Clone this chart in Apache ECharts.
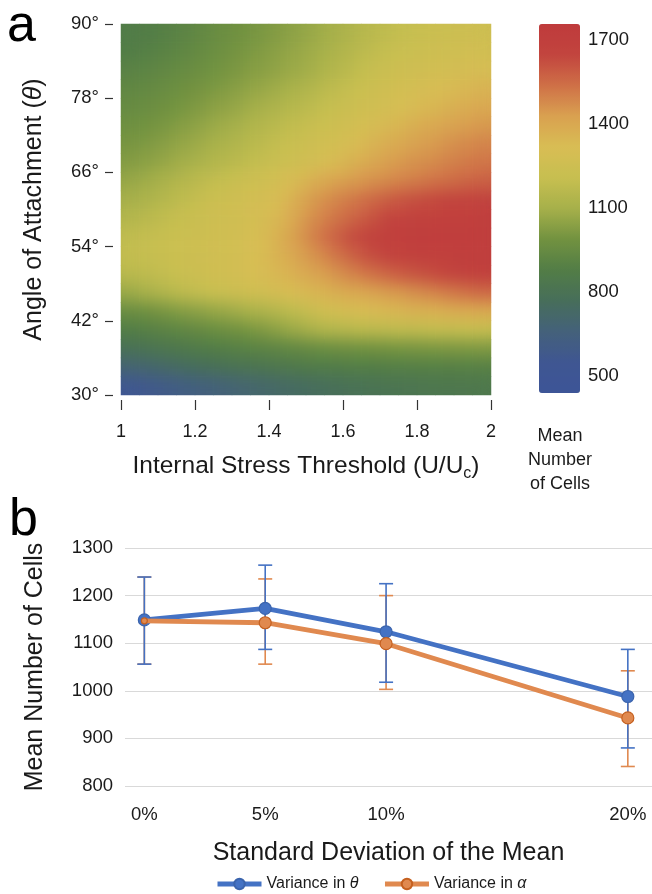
<!DOCTYPE html>
<html>
<head>
<meta charset="utf-8">
<script src="https://cdn.jsdelivr.net/npm/echarts@6/dist/echarts.min.js"></script>
<style>
html,body{margin:0;padding:0;background:#fff;}
#main{position:absolute;left:0;top:0;width:652px;height:894px;}
#smooth{position:absolute;left:121px;top:24px;width:370px;height:371px;filter:url(#blurHeat);pointer-events:none;}
</style>
</head>
<body>
<svg width="0" height="0" style="position:absolute">
  <filter id="blurHeat" x="0" y="0" width="1" height="1" color-interpolation-filters="sRGB">
    <feGaussianBlur in="SourceGraphic" stdDeviation="8" result="b"/>
    <feComponentTransfer in="b" result="o"><feFuncA type="linear" slope="0" intercept="1"/></feComponentTransfer>
    <feComposite in="o" in2="SourceGraphic" operator="in"/>
  </filter>
</svg>
<div id="main"></div>
<div id="smooth"></div>
<script>
// ---------- Panel a: heatmap data ----------
const stressCenters = [1.025,1.075,1.125,1.175,1.225,1.275,1.325,1.375,1.425,1.475,1.525,1.575,1.625,1.675,1.725,1.775,1.825,1.875,1.925,1.975];
const angleCentersTopDown = [88.5,85.5,82.5,79.5,76.5,73.5,70.5,67.5,64.5,61.5,58.5,55.5,52.5,49.5,46.5,43.5,40.5,37.5,34.5,31.5];
const meanCells = [
  [868,880,895,915,940,965,985,1005,1025,1050,1075,1100,1130,1160,1185,1205,1220,1230,1238,1245],
  [880,893,910,930,955,978,1000,1020,1042,1065,1090,1120,1150,1180,1205,1225,1240,1252,1262,1272],
  [905,918,935,955,975,995,1015,1035,1055,1078,1105,1140,1175,1210,1235,1250,1265,1280,1292,1305],
  [930,943,960,980,1000,1020,1042,1065,1090,1118,1148,1180,1210,1240,1265,1285,1303,1320,1338,1355],
  [950,963,982,1003,1025,1048,1072,1100,1128,1155,1182,1210,1235,1260,1285,1310,1335,1358,1378,1398],
  [975,990,1010,1035,1060,1085,1112,1140,1168,1195,1220,1245,1270,1300,1335,1365,1390,1410,1428,1445],
  [1000,1018,1040,1065,1092,1118,1145,1172,1200,1228,1250,1275,1310,1350,1385,1410,1432,1455,1475,1492],
  [1025,1045,1070,1097,1125,1150,1175,1200,1228,1255,1285,1325,1365,1400,1430,1452,1472,1492,1508,1525],
  [1065,1090,1120,1150,1180,1205,1230,1255,1285,1330,1380,1415,1440,1462,1482,1502,1522,1542,1558,1575],
  [1100,1125,1155,1185,1215,1240,1262,1285,1320,1385,1445,1485,1515,1550,1585,1610,1628,1643,1655,1665],
  [1140,1165,1190,1215,1235,1250,1265,1290,1340,1410,1475,1520,1560,1605,1645,1668,1684,1695,1700,1705],
  [1185,1200,1215,1232,1248,1262,1280,1310,1365,1435,1505,1565,1625,1675,1698,1710,1715,1715,1718,1720],
  [1195,1205,1220,1238,1252,1265,1285,1315,1360,1410,1460,1515,1570,1620,1660,1682,1694,1700,1705,1710],
  [1160,1180,1200,1225,1245,1265,1285,1310,1340,1375,1410,1450,1490,1530,1565,1595,1618,1640,1665,1690],
  [1075,1110,1145,1180,1205,1225,1245,1265,1290,1320,1345,1370,1390,1410,1435,1455,1480,1505,1530,1550],
  [960,980,1005,1030,1050,1070,1095,1120,1150,1185,1235,1275,1300,1320,1335,1350,1360,1372,1382,1392],
  [880,895,912,930,950,970,990,1015,1045,1080,1120,1145,1160,1170,1180,1188,1195,1200,1205,1210],
  [790,810,832,852,870,885,898,910,922,935,955,968,978,985,992,998,1003,1008,1012,1015],
  [685,705,728,750,770,788,805,820,835,850,862,870,875,880,884,887,889,891,893,895],
  [555,575,600,625,648,670,690,710,728,745,760,775,790,802,812,820,826,832,836,840]
];
const colorbarTicks = [500, 800, 1100, 1400, 1700];
const colorbarMin = 440, colorbarMax = 1755;
const colorScale = ['#3d5597','#3f5692','#44617a','#476e5a','#527d46','#729240','#a6b04a','#c7bf50','#d8bd54','#d9a150','#cf7047','#c2443e','#bf3b3c'];

// ---------- Panel b: line data ----------
const sdLevels = [0, 5, 10, 20];
const sdTickLabels = ['0%', '5%', '10%', '20%'];
const thetaMean = [1149, 1173, 1124, 988];
const thetaLow  = [1056, 1087, 1018, 880];
const thetaHigh = [1239, 1264, 1225, 1087];
const alphaMean = [1147, 1143, 1099, 943];
const alphaLow  = [1056, 1056, 1003, 841];
const alphaHigh = [1239, 1235, 1200, 1042];

const FONT = '"Liberation Sans", Arial, sans-serif';
const BLUE = '#4472c4', ORANGE = '#e0894f';

const angleCenters = angleCentersTopDown.slice().reverse();
const heatData = [];
meanCells.forEach((row, r) => {
  const yi = angleCentersTopDown.length - 1 - r;
  row.forEach((v, c) => heatData.push([c, yi, v]));
});

function heatSeries(xi, yi) {
  return {
    type: 'heatmap', xAxisIndex: xi, yAxisIndex: yi, data: heatData,
    itemStyle: {borderWidth: 0}, emphasis: {disabled: true}, silent: true, progressive: 0
  };
}

function errorBars(name, lows, highs, color) {
  return {
    type: 'custom', name: name, xAxisIndex: 3, yAxisIndex: 3, silent: true, z: 1,
    data: sdLevels.map((x, i) => [x, lows[i], highs[i]]),
    encode: {x: 0, y: [1, 2]},
    renderItem: function (params, api) {
      const x = api.value(0);
      const lo = api.coord([x, api.value(1)]);
      const hi = api.coord([x, api.value(2)]);
      const hw = 7;
      const st = {stroke: color, lineWidth: 1.6, fill: null};
      return {type: 'group', children: [
        {type: 'line', shape: {x1: lo[0], y1: lo[1], x2: hi[0], y2: hi[1]}, style: st},
        {type: 'line', shape: {x1: lo[0] - hw, y1: lo[1], x2: lo[0] + hw, y2: lo[1]}, style: st},
        {type: 'line', shape: {x1: hi[0] - hw, y1: hi[1], x2: hi[0] + hw, y2: hi[1]}, style: st}
      ]};
    }
  };
}

const plain = function (v) { return String(v); };
const txt = '#1a1a1a';
const chart = echarts.init(document.getElementById('main'), null, {renderer: 'canvas'});
chart.setOption({
  animation: false,
  backgroundColor: '#fff',
  textStyle: {fontFamily: FONT},
  grid: [
    {left: 121, top: 24, width: 370, height: 371, containLabel: false},
    {left: 539, top: 24, width: 41, height: 369, containLabel: false},
    {left: 125, top: 548, width: 527, height: 238, containLabel: false}
  ],
  xAxis: [
    {type: 'category', gridIndex: 0, data: stressCenters, show: false, position: 'top'},
    {type: 'value', gridIndex: 0, min: 1, max: 2, interval: 0.2, position: 'bottom', offset: 5,
     axisLine: {show: false}, splitLine: {show: false},
     axisTick: {show: true, length: 10, lineStyle: {color: '#333', width: 1.2}},
     axisLabel: {color: txt, fontSize: 18, fontFamily: FONT, margin: 23, formatter: plain},
     name: 'Internal Stress Threshold (U/U{s|c})', nameLocation: 'middle', nameGap: 50,
     nameTextStyle: {color: txt, fontSize: 24.5, fontFamily: FONT,
       rich: {s: {fontSize: 16, color: txt, fontFamily: FONT, padding: [16, 0, 0, 0]}}}},
    {type: 'value', gridIndex: 1, show: false, min: 0, max: 1},
    {type: 'value', gridIndex: 2, min: -0.8, max: 21, position: 'bottom',
     axisLine: {show: false}, axisTick: {show: false}, splitLine: {show: false},
     axisLabel: {customValues: sdLevels, color: txt, fontSize: 18.5, fontFamily: FONT, margin: 19,
       formatter: function (v) { const i = sdLevels.indexOf(v); return i >= 0 ? sdTickLabels[i] : ''; }},
     name: 'Standard Deviation of the Mean', nameLocation: 'middle', nameGap: 55,
     nameTextStyle: {color: txt, fontSize: 25, fontFamily: FONT}}
  ],
  yAxis: [
    {type: 'category', gridIndex: 0, data: angleCenters, show: false, position: 'right'},
    {type: 'value', gridIndex: 0, min: 30, max: 90, interval: 12, position: 'left', offset: 8,
     axisLine: {show: false}, splitLine: {show: false},
     axisTick: {show: true, length: 8, lineStyle: {color: '#333', width: 1.2}},
     axisLabel: {color: txt, fontSize: 18.5, fontFamily: FONT, margin: 14, formatter: '{value}°'},
     name: 'Angle of Attachment ({i|θ})', nameLocation: 'middle', nameGap: 66,
     nameTextStyle: {color: txt, fontSize: 25, fontFamily: FONT,
       rich: {i: {fontStyle: 'italic', fontSize: 25, color: txt, fontFamily: FONT}}}},
    {type: 'value', gridIndex: 1, min: colorbarMin, max: colorbarMax, position: 'right',
     axisLine: {show: false}, axisTick: {show: false}, splitLine: {show: false},
     axisLabel: {customValues: colorbarTicks, color: txt, fontSize: 18.5, fontFamily: FONT, margin: 8, formatter: plain}},
    {type: 'value', gridIndex: 2, min: 800, max: 1300, interval: 100,
     axisLine: {show: false}, axisTick: {show: false},
     splitLine: {show: true, lineStyle: {color: '#d9d9d9', width: 1.2}},
     axisLabel: {color: txt, fontSize: 18.5, fontFamily: FONT, margin: 12, formatter: plain},
     name: 'Mean Number of Cells', nameLocation: 'middle', nameGap: 77,
     nameTextStyle: {color: txt, fontSize: 25, fontFamily: FONT}}
  ],
  visualMap: {
    type: 'continuous', min: colorbarMin, max: colorbarMax, seriesIndex: 0,
    left: 539, top: 24, itemWidth: 41, itemHeight: 369, padding: 0,
    calculable: false, hoverLink: false, text: null, showLabel: false,
    inRange: {color: colorScale}
  },
  legend: {
    data: ['Variance in θ', 'Variance in α'], top: 871, left: 210,
    itemWidth: 44, itemHeight: 13, itemGap: 24,
    lineStyle: {width: 5},
    textStyle: {color: txt, fontSize: 16, fontFamily: FONT,
      rich: {i: {fontStyle: 'italic', fontSize: 16, color: txt, fontFamily: FONT}}},
    formatter: function (n) { return n.replace(/(θ|α)$/, '{i|$1}'); }
  },
  graphic: [
    {type: 'text', left: 7, top: 1, style: {text: 'a', font: '52px ' + FONT, fill: '#000'}},
    {type: 'text', left: 9, top: 495, style: {text: 'b', font: '52px ' + FONT, fill: '#000'}},
    {type: 'text', x: 560, y: 424, style: {text: 'Mean\nNumber\nof Cells', font: '18px ' + FONT,
      fill: txt, align: 'center', verticalAlign: 'top', lineHeight: 24}}
  ],
  series: [
    heatSeries(0, 0),
    errorBars('errA', alphaLow, alphaHigh, ORANGE),
    errorBars('errT', thetaLow, thetaHigh, BLUE),
    {type: 'line', name: 'Variance in θ', xAxisIndex: 3, yAxisIndex: 3, z: 3,
     data: sdLevels.map((x, i) => [x, thetaMean[i]]),
     symbol: 'circle', symbolSize: 12, showAllSymbol: true,
     lineStyle: {color: BLUE, width: 4.8}, itemStyle: {color: BLUE, borderColor: '#3b64ad', borderWidth: 1.2}},
    {type: 'line', name: 'Variance in α', xAxisIndex: 3, yAxisIndex: 3, z: 4,
     data: sdLevels.map((x, i) => [x, alphaMean[i]]),
     symbol: 'circle', symbolSize: function (v, p) { return p.dataIndex === 0 ? 6 : 12; }, showAllSymbol: true,
     lineStyle: {color: ORANGE, width: 4.8}, itemStyle: {color: ORANGE, borderColor: '#c5601f', borderWidth: 1.2}}
  ]
});

const smooth = echarts.init(document.getElementById('smooth'), null, {renderer: 'canvas'});
smooth.setOption({
  animation: false,
  grid: {left: 0, top: 0, right: 0, bottom: 0, containLabel: false},
  xAxis: {type: 'category', data: stressCenters, show: false},
  yAxis: {type: 'category', data: angleCenters, show: false},
  visualMap: {type: 'continuous', min: colorbarMin, max: colorbarMax, show: false, inRange: {color: colorScale}},
  series: [heatSeries(0, 0)]
});
</script>
</body>
</html>
